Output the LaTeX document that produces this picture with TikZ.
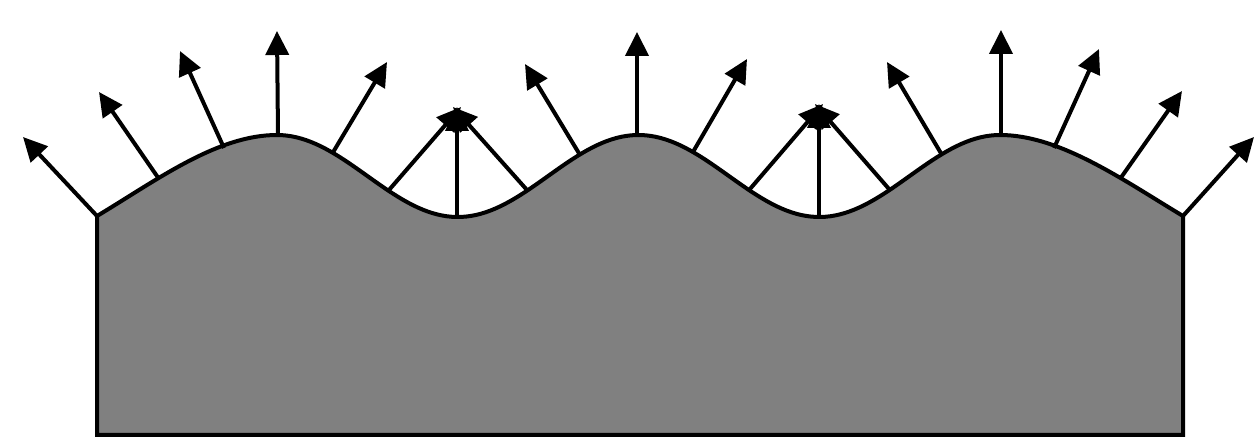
\documentclass[tikz,border=0pt]{standalone}
\usetikzlibrary{arrows.meta}
\definecolor{solidgray}{RGB}{128,128,128}
\tikzset{
  surf/.style={draw=black, line width=4pt, fill=solidgray, line join=miter},
  normalarrow/.style={draw=black, line width=4pt, -{Triangle[length=24pt,width=23pt]}}
}
\begin{document}
\begin{tikzpicture}[x=1pt,y=-1pt]
\useasboundingbox (0,0) rectangle (1254,446);
% surface
\draw[surf] (97,435) -- (97,216) .. controls (157,180) and (217,135) .. (277,135)
  -- plot[domain=277:1000, samples=150] (\x, {176-41*cos((\x-277)*0.995851)})
  .. controls (1060,135) and (1123,180) .. (1183,216) -- (1183,435) -- cycle;
% base points
\coordinate (b1) at (97,216);
\coordinate (b2) at (159,179);
\coordinate (b3) at (224,148);
\coordinate (b4) at (278,135);
\coordinate (b5) at (332,154);
\coordinate (b6) at (389,190);
\coordinate (b7) at (457,217);
\coordinate (b8) at (527,190);
\coordinate (b9) at (580,155);
\coordinate (b10) at (637,135);
\coordinate (b11) at (693,152);
\coordinate (b12) at (750,189);
\coordinate (b13) at (819,217);
\coordinate (b14) at (889,189);
\coordinate (b15) at (942,155);
\coordinate (b16) at (1001,135);
\coordinate (b17) at (1054,148);
\coordinate (b18) at (1120,179);
\coordinate (b19) at (1183,216);
% tips
\coordinate (t1) at (23,137);
\coordinate (t2) at (99,92);
\coordinate (t3) at (180,51);
\coordinate (t4) at (277,31);
\coordinate (t5) at (387,62);
\coordinate (t6) at (461,107);
\coordinate (t7) at (457,107);
\coordinate (t8) at (453,107);
\coordinate (t9) at (525,64);
\coordinate (t10) at (637,32);
\coordinate (t11) at (747,59);
\coordinate (t12) at (823,104);
\coordinate (t13) at (819,104);
\coordinate (t14) at (815,104);
\coordinate (t15) at (887,62);
\coordinate (t16) at (1001,30);
\coordinate (t17) at (1099,49);
\coordinate (t18) at (1182,91);
\coordinate (t19) at (1254,137);
\foreach \i in {1,...,19} {
  \draw[normalarrow] (b\i) -- (t\i);
}
\end{tikzpicture}
\end{document}
